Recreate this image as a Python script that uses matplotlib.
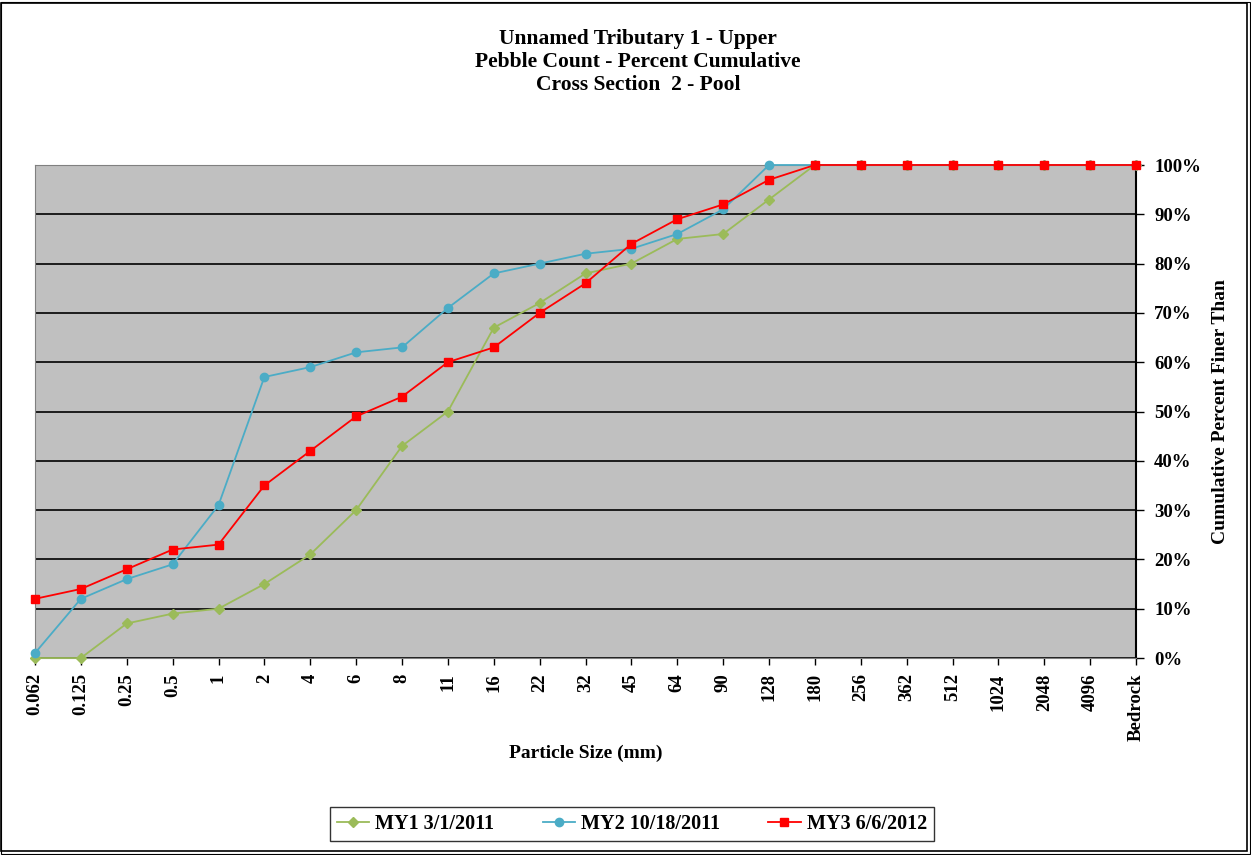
import matplotlib
matplotlib.use("Agg")
import matplotlib.pyplot as plt
from matplotlib.ticker import FuncFormatter
from matplotlib.patches import Rectangle

categories = ["0.062", "0.125", "0.25", "0.5", "1", "2", "4", "6", "8", "11", "16", "22",
              "32", "45", "64", "90", "128", "180", "256", "362", "512", "1024", "2048",
              "4096", "Bedrock"]
my1 = [0, 0, 7, 9, 10, 15, 21, 30, 43, 50, 67, 72, 78, 80, 85, 86, 93, 100, 100, 100, 100, 100, 100, 100, 100]
my2 = [1, 12, 16, 19, 31, 57, 59, 62, 63, 71, 78, 80, 82, 83, 86, 91, 100, 100, 100, 100, 100, 100, 100, 100, 100]
my3 = [12, 14, 18, 22, 23, 35, 42, 49, 53, 60, 63, 70, 76, 84, 89, 92, 97, 100, 100, 100, 100, 100, 100, 100, 100]
labels = ["MY1 3/1/2011", "MY2 10/18/2011", "MY3 6/6/2012"]

plt.rcParams['font.family'] = ['Liberation Serif', 'DejaVu Serif']
plt.rcParams['font.weight'] = 'bold'

W, H = 1251, 855
fig = plt.figure(figsize=(W / 100, H / 100), dpi=100)
ax = fig.add_axes([35 / W, 1 - 658 / H, (1136 - 35) / W, (658 - 165) / H])
ax.set_facecolor('#C0C0C0')

x = list(range(len(categories)))
ax.plot(x, my1, color='#9BBB59', marker='D', markersize=5, lw=1.3, label=labels[0], clip_on=False, zorder=3)
ax.plot(x, my2, color='#4BACC6', marker='o', markersize=6, lw=1.3, label=labels[1], clip_on=False, zorder=4)
ax.plot(x, my3, color='#FF0000', marker='s', markersize=6, lw=1.3, label=labels[2], clip_on=False, zorder=5)

ax.set_xlim(0, len(categories) - 1)
ax.set_ylim(0, 100)
ax.set_xticks(x)
ax.set_xticklabels(categories, rotation=90, fontsize=13.5, fontweight='bold')
ax.yaxis.tick_right()
ax.yaxis.set_label_position('right')
ax.set_yticks(range(0, 101, 10))
ax.yaxis.set_major_formatter(FuncFormatter(lambda v, p: f"{int(v)}%"))
for t in ax.get_yticklabels():
    t.set_fontsize(13.5)
    t.set_fontweight('bold')
ax.tick_params(axis='y', length=6, width=1, pad=7, direction='out')
ax.tick_params(axis='x', length=5, width=1, pad=6, direction='out')
ax.grid(axis='y', color='black', lw=1.2)
ax.set_axisbelow(True)
for s in ['top', 'left', 'bottom']:
    ax.spines[s].set_color('#808080')
ax.spines['right'].set_color('black')
ax.spines['right'].set_linewidth(1.5)

ax.set_xlabel("Particle Size (mm)", fontsize=14, fontweight='bold', labelpad=3)
ax.set_ylabel("Cumulative Percent Finer Than", fontsize=14, fontweight='bold', labelpad=8)

fig.text(638 / W, 1 - 62 / H, "Unnamed Tributary 1 - Upper\nPebble Count - Percent Cumulative\nCross Section  2 - Pool",
         ha='center', va='center', fontsize=15.5, fontweight='bold', linespacing=1.2)

leg = fig.legend(loc='center', bbox_to_anchor=(632 / W, 1 - 824 / H), ncol=3,
                 frameon=True, fancybox=False, edgecolor='black', handlelength=1.6,
                 handletextpad=0.3, columnspacing=2.4, borderpad=0.35, borderaxespad=0,
                 prop={'weight': 'bold', 'size': 14.5})
leg.get_frame().set_linewidth(1.0)

fig.patches.append(Rectangle((1 / W, 4 / H), 1246 / W, 848 / H, transform=fig.transFigure,
                             fill=False, edgecolor='black', lw=1.2))
fig.patches.append(Rectangle((1 / W, 1 / H), 1249 / W, 852 / H, transform=fig.transFigure,
                             fill=False, edgecolor='black', lw=0.8))

fig.savefig("out.png", dpi=100)
